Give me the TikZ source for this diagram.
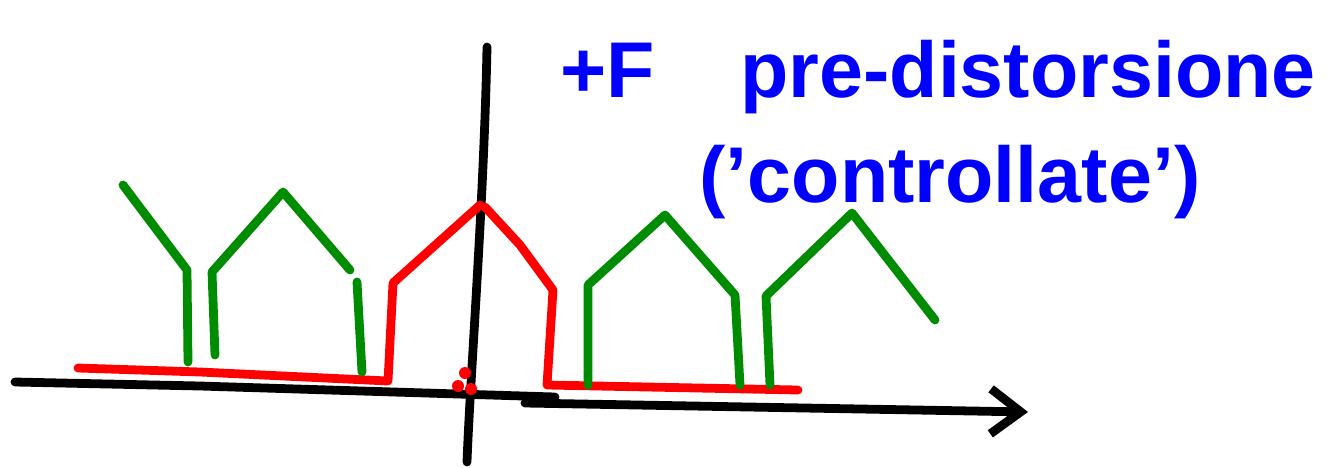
\documentclass[tikz,border=0pt]{standalone}
\usepackage{fontspec}
\setmainfont{Liberation Sans}
\usetikzlibrary{arrows.meta}
\newcommand{\gradino}[2]{\draw[verde] (#1) -- (#2)}
\tikzset{
  epais/.style={line width=5pt, line cap=round, line join=round},
  rosso/.style={epais, draw=red},
  verde/.style={epais, draw=green!55!black},
  testo/.style={text=blue, font=\fontsize{45}{52}\selectfont\bfseries, inner sep=0pt}
}

\begin{document}
\begin{tikzpicture}[x=0.02cm, y=-0.02cm]
\useasboundingbox (0,0) rectangle (1331,467);
%Axes
	\draw[epais] (15,382) -- (200,386) -- (555,397);
	\draw[epais, -{Straight Barb[length=6mm,width=9mm]}] (525,403) -- (1028,412);
	\draw[epais] (487,47) .. controls (484,200) and (470,380) .. (467,462);
%The red pulse
	\draw[rosso] (78,368) -- (200,372) -- (388,381) -- (393,283) -- (480,205);
	\draw[rosso] (485,207) -- (520,245) -- (553,290) -- (547,385) -- (798,390);
	\fill[red] (465,373) circle (6) (458,386) circle (6) (471,389) circle (6);
%Green pulses
	\draw[verde] (123,185) -- (187,270) -- (188,362);
	\draw[verde] (215,355) -- (212,272) -- (283,192) -- (350,270);
	\gradino{357,282}{362,372};
	\draw[verde] (588,385) -- (588,285) -- (665,215) -- (735,295) -- (740,385);
	\draw[verde] (770,385) -- (766,296) -- (852,213) -- (935,320);
%Label
	\node[testo, anchor=base west] (forza) at (560,97) {+F};
	\node[testo, anchor=base west] (predist) at (740,97) {pre-distorsione};
	\node[testo, anchor=base] (contr) at (950,202) {('controllate')};
\end{tikzpicture}
\end{document}
